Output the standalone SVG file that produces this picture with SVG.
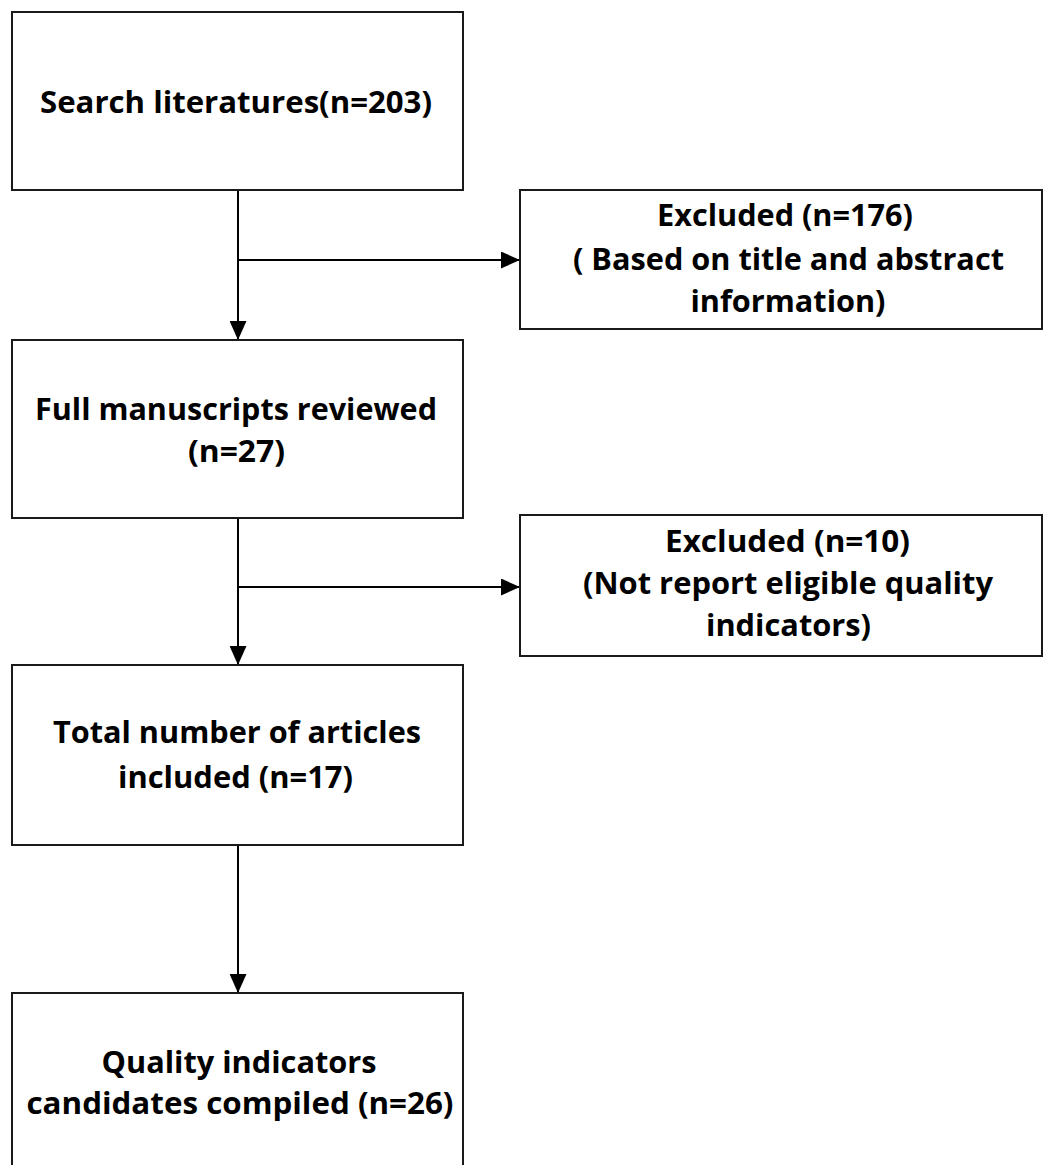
<svg xmlns="http://www.w3.org/2000/svg" width="1044" height="1165" viewBox="0 0 1044 1165">
<style>
.box{fill:#fff;stroke:#1a1a1a;stroke-width:2}
.t{font-family:"Open Sans","Noto Sans","Liberation Sans",sans-serif;font-weight:700;font-size:29.5px;fill:#000;text-anchor:middle}
.c{stroke:#000;stroke-width:2;fill:none}
</style>
<defs>
<marker id="ah" markerWidth="19" markerHeight="17" refX="19" refY="8.5" orient="auto" markerUnits="userSpaceOnUse">
<path d="M0,0 L19,8.5 L0,17 Z" fill="#000"/>
</marker>
</defs>
<rect width="1044" height="1165" fill="#fff"/>
<g id="connectors">
<line class="c" x1="238" y1="190" x2="238" y2="340" marker-end="url(#ah)"/>
<line class="c" x1="238" y1="260" x2="520" y2="260" marker-end="url(#ah)"/>
<line class="c" x1="238" y1="518" x2="238" y2="665" marker-end="url(#ah)"/>
<line class="c" x1="238" y1="587" x2="520" y2="587" marker-end="url(#ah)"/>
<line class="c" x1="238" y1="845" x2="238" y2="993" marker-end="url(#ah)"/>
</g>
<g id="search">
<rect class="box" x="12" y="12" width="451" height="178"/>
<text class="t" x="236" y="112.5" textLength="392" lengthAdjust="spacingAndGlyphs">Search literatures(n=203)</text>
</g>
<g id="excluded1">
<rect class="box" x="520" y="190" width="522" height="139"/>
<text class="t" x="785" y="226" textLength="256" lengthAdjust="spacingAndGlyphs">Excluded (n=176)</text>
<text class="t" x="788.5" y="270" textLength="431" lengthAdjust="spacingAndGlyphs">( Based on title and abstract</text>
<text class="t" x="788" y="312" textLength="195" lengthAdjust="spacingAndGlyphs">information)</text>
</g>
<g id="fullms">
<rect class="box" x="12" y="340" width="451" height="178"/>
<text class="t" x="236" y="420" textLength="402" lengthAdjust="spacingAndGlyphs">Full manuscripts reviewed</text>
<text class="t" x="236.5" y="462" textLength="97" lengthAdjust="spacingAndGlyphs">(n=27)</text>
</g>
<g id="excluded2">
<rect class="box" x="520" y="515" width="522" height="141"/>
<text class="t" x="787.5" y="552" textLength="245" lengthAdjust="spacingAndGlyphs">Excluded (n=10)</text>
<text class="t" x="788" y="594" textLength="410" lengthAdjust="spacingAndGlyphs">(Not report eligible quality</text>
<text class="t" x="788.5" y="636" textLength="165" lengthAdjust="spacingAndGlyphs">indicators)</text>
</g>
<g id="total">
<rect class="box" x="12" y="665" width="451" height="180"/>
<text class="t" x="237" y="743" textLength="368" lengthAdjust="spacingAndGlyphs">Total number of articles</text>
<text class="t" x="235.5" y="788" textLength="235" lengthAdjust="spacingAndGlyphs">included (n=17)</text>
</g>
<g id="quality">
<rect class="box" x="12" y="993" width="451" height="185"/>
<text class="t" x="239" y="1073" textLength="275" lengthAdjust="spacingAndGlyphs">Quality indicators</text>
<text class="t" x="240" y="1114" textLength="427" lengthAdjust="spacingAndGlyphs">candidates compiled (n=26)</text>
</g>
</svg>
